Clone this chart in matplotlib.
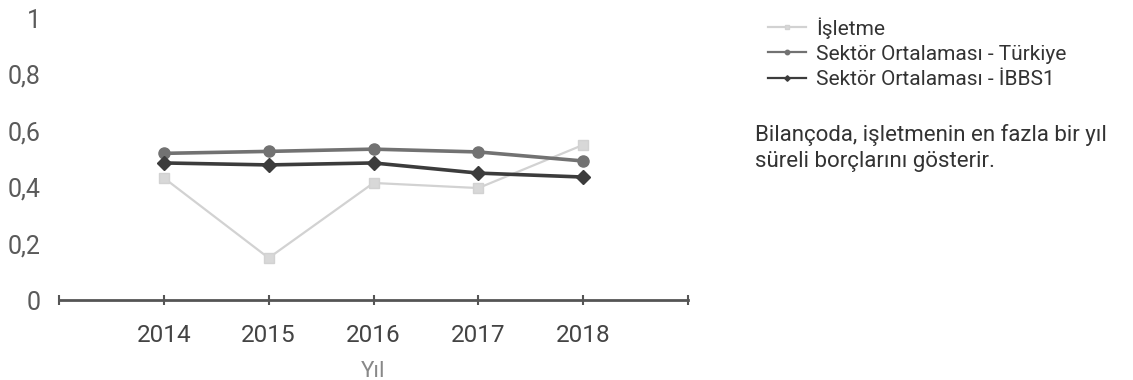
import matplotlib
matplotlib.use('Agg')
import matplotlib.pyplot as plt
from matplotlib.ticker import FuncFormatter
import numpy as np

plt.rcParams['font.family'] = ['Roboto', 'DejaVu Sans']

years = [2014, 2015, 2016, 2017, 2018]
isletme = [0.433, 0.149, 0.415, 0.397, 0.55]
turkiye = [0.52, 0.527, 0.535, 0.525, 0.493]
ibbs1 = [0.486, 0.479, 0.486, 0.45, 0.436]

labels = ['İşletme', 'Sektör Ortalaması - Türkiye', 'Sektör Ortalaması - İBBS1']
note = 'Bilançoda, işletmenin en fazla bir yıl\nsüreli borçlarını gösterir.'

fig = plt.figure(figsize=(11.33, 3.8), dpi=100)
ax = fig.add_axes([59/1133, 1-300/380, (688-59)/1133, 282/380])

l1, = ax.plot(years, isletme, color='#d2d2d2', lw=1.6, marker='s', ms=7, mec='#d2d2d2', mfc='#d8d8d8')
l2, = ax.plot(years, turkiye, color='#727272', lw=2.6, marker='o', ms=8, mfc='#727272', mec='#727272')
l3, = ax.plot(years, ibbs1, color='#3c3c3c', lw=2.6, marker='D', ms=7, mfc='#3c3c3c', mec='#3c3c3c')

ax.set_xlim(2013, 2019)
ax.set_ylim(0, 1)
ax.set_yticks([0, 0.2, 0.4, 0.6, 0.8, 1])
ax.yaxis.set_major_formatter(FuncFormatter(lambda v, p: ('%g' % round(v, 1)).replace('.', ',')))
ax.set_xticks([2013, 2014, 2015, 2016, 2017, 2018, 2019])
ax.set_xticklabels(['', '2014', '2015', '2016', '2017', '2018', ''])

for s in ['top', 'right', 'left']:
    ax.spines[s].set_visible(False)
ax.spines['bottom'].set_color('#555555')
ax.spines['bottom'].set_linewidth(2)
ax.tick_params(axis='y', length=0, pad=13, labelsize=18, labelcolor='#5a5a5a')
ax.tick_params(axis='x', direction='inout', length=7, width=1.5, color='#555555',
               pad=14, labelsize=17.5, labelcolor='#444444')
ax.set_xlabel('Yıl', fontsize=16, color='#888888', labelpad=10)

leg = fig.legend([l1, l2, l3], labels, loc='upper left', bbox_to_anchor=(768/1133, 1-17/380),
                 frameon=False, fontsize=15, handlelength=1.8, handletextpad=0.5,
                 labelspacing=0.3, borderaxespad=0, borderpad=0, markerscale=0.4)
for h in leg.legend_handles:
    h.set_linewidth(1.6)
for t in leg.get_texts():
    t.set_color('#333333')
fig.text(755/1133, 1-148/380, note, fontsize=16, color='#333333', va='center',
         linespacing=1.3)

fig.savefig('out.png', dpi=100)
